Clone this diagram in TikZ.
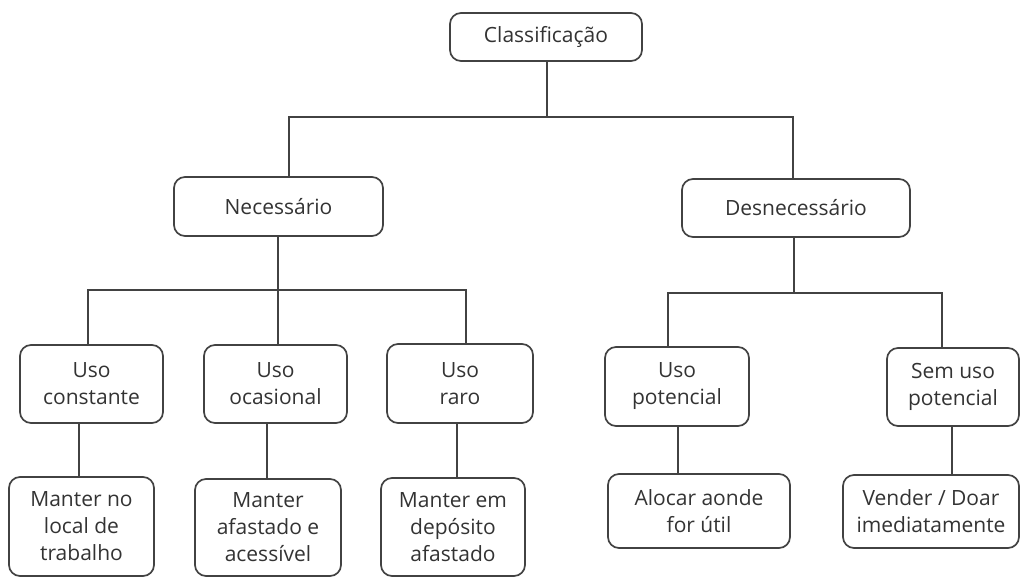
\documentclass[tikz,border=0pt]{standalone}
\usepackage{fontspec}
\setmainfont{Open Sans}
\definecolor{ln}{HTML}{424242}
\definecolor{tx}{HTML}{333333}
\begin{document}
\begin{tikzpicture}[x=1pt,y=-1pt,
  box/.style={draw=ln, line width=1.7pt, rounded corners=11pt, align=center, text=tx,
    font=\fontsize{21}{27}\selectfont, inner sep=0pt},
  conn/.style={draw=ln, line width=1.7pt}]
\useasboundingbox (0,0) rectangle (1020,577);
% level 0
\node[box, minimum width=192pt, minimum height=48pt] (cls) at (546,37) {Classificação};
% level 1
\node[box, minimum width=209pt, minimum height=59pt] (nec) at (278.5,206.5) {Necessário};
\node[box, minimum width=228pt, minimum height=58pt] (des) at (796,208) {Desnecessário};
% level 2
\node[box, minimum width=143pt, minimum height=78pt] (con) at (91.5,384) {Uso\\constante};
\node[box, minimum width=143pt, minimum height=78pt] (oca) at (275.5,384) {Uso\\ocasional};
\node[box, minimum width=146pt, minimum height=79pt] (rar) at (460,383.5) {Uso\\raro};
\node[box, minimum width=144pt, minimum height=79pt] (pot) at (677,386.5) {Uso\\potencial};
\node[box, minimum width=132pt, minimum height=78pt] (sem) at (953,387) {Sem uso\\potencial};
% level 3
\node[box, minimum width=145pt, minimum height=99pt] (loc) at (81.5,526.5) {Manter no\\local de\\trabalho};
\node[box, minimum width=146pt, minimum height=97pt] (afa) at (268,527.5) {Manter\\afastado e\\acessível};
\node[box, minimum width=144pt, minimum height=98pt] (dep) at (453,527) {Manter em\\depósito\\afastado};
\node[box, minimum width=182pt, minimum height=74pt] (alo) at (699,511) {Alocar aonde\\for útil};
\node[box, minimum width=176pt, minimum height=73pt] (ven) at (931,511.5) {Vender / Doar\\imediatamente};
% junctions
\coordinate (j0) at (547,117);
\coordinate (jL) at (289,117);
\coordinate (jR) at (793,117);
\coordinate (kL) at (88,290);
\coordinate (kM) at (278,290);
\coordinate (kR) at (466,290);
\coordinate (mL) at (668,293);
\coordinate (mM) at (794,293);
\coordinate (mR) at (942,293);
\coordinate (p1) at (79,0);
\coordinate (p2) at (267,0);
\coordinate (p3) at (457,0);
\coordinate (p4) at (678,0);
\coordinate (p5) at (952,0);
% connectors
\draw[conn] (cls.south -| j0) -- (j0);
\draw[conn] (nec.north -| jL) -- (jL) -- (jR) -- (des.north -| jR);
\draw[conn] (nec.south -| kM) -- (kM);
\draw[conn] (con.north -| kL) -- (kL) -- (kR) -- (rar.north -| kR);
\draw[conn] (oca.north -| kM) -- (kM);
\draw[conn] (des.south -| mM) -- (mM);
\draw[conn] (pot.north -| mL) -- (mL) -- (mR) -- (sem.north -| mR);
\draw[conn] (con.south -| p1) -- (loc.north -| p1);
\draw[conn] (oca.south -| p2) -- (afa.north -| p2);
\draw[conn] (rar.south -| p3) -- (dep.north -| p3);
\draw[conn] (pot.south -| p4) -- (alo.north -| p4);
\draw[conn] (sem.south -| p5) -- (ven.north -| p5);
\end{tikzpicture}
\end{document}
